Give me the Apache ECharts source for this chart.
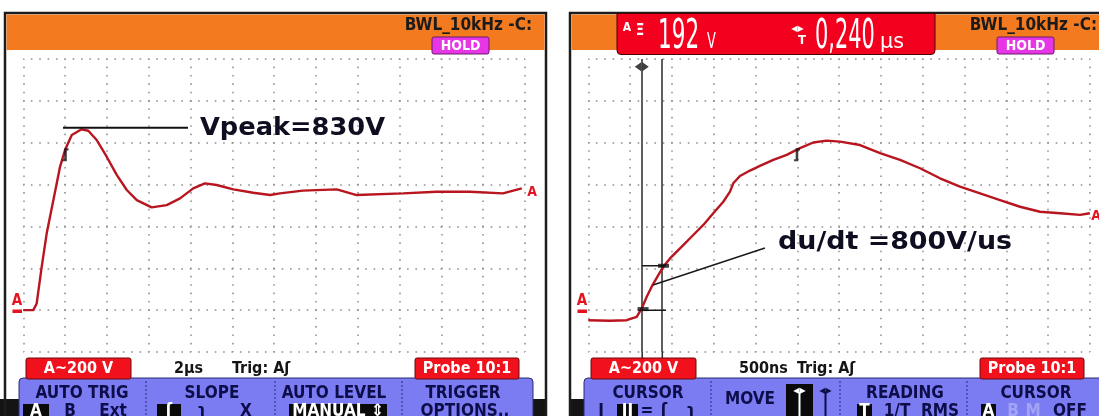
<!DOCTYPE html>
<html><head><meta charset="utf-8">
<script src="https://cdn.jsdelivr.net/npm/echarts@6/dist/echarts.min.js"></script>
<style>html,body{margin:0;padding:0;background:#fff;}#c{width:1099px;height:416px;}</style>
</head><body><div id="c"></div>
<script>
// ---- data (left scope: 2 µs/div, 200 V/div) ----
const leftTime = [0, 0.48, 0.64, 0.88, 1.12, 1.44, 1.76, 2.0, 2.32, 2.79, 3.11, 3.51, 3.99, 4.47, 4.95, 5.43, 6.14, 6.86, 7.5, 8.13, 8.69, 9.25, 10.05, 11.0, 11.81, 12.28, 13.38, 15.0, 15.95, 18.17, 19.78, 21.37, 22.95, 23.85];
const leftVolt = [0, 0, 32, 207, 367, 526, 686, 766, 837, 864, 857, 813, 733, 646, 574, 526, 491, 502, 534, 582, 606, 598, 577, 561, 550, 558, 571, 577, 550, 558, 566, 566, 558, 582];
// ---- data (right scope: 500 ns/div, 200 V/div) ----
const rightTime = [0, 260, 459, 579, 639, 699, 758, 837, 897, 977, 1097, 1256, 1376, 1495, 1615, 1695, 1734, 1814, 1934, 2053, 2213, 2373, 2532, 2691, 2852, 3011, 3250, 3490, 3729, 3968, 4207, 4446, 4686, 4925, 5164, 5403, 5643, 5882, 6000];
const rightVolt = [-48, -51, -48, -32, 8, 64, 112, 167, 207, 247, 295, 359, 407, 463, 518, 566, 606, 641, 667, 689, 718, 742, 774, 801, 810, 805, 789, 750, 718, 678, 630, 590, 558, 526, 494, 470, 463, 455, 463];
// annotations
const vpeakLineT = [1.90, 7.88];
const vpeakLineV = [871, 871];
const dudtLineT = [774, 2113];
const dudtLineV = [120, 297];
const cursorTimes = [640, 880];
const cursorLevels = [0, 212];
const cursorSpanT = [640, 930];
const cursorDotsT = [655, 900];
const cursorDotsV = [5, 212];
const trigLevel = 742;
const trigLeftT = 2.02;
const trigRightT = 2496;
// axes
const leftTimeAxis = [0, 24, 2];
const rightTimeAxis = [0, 6000, 500];
const voltAxis = [-200, 1200, 200];
// texts
const headerLabel = 'BWL_10kHz -C:';
const holdLabel = 'HOLD';
const rangeLabel = 'A~200 V';
const probeLabel = 'Probe 10:1';
const timebaseLeft = '2µs';
const timebaseRight = '500ns';
const trigLabel = 'Trig: Aʃ';
const vpeakLabel = 'Vpeak=830V';
const dudtLabel = 'du/dt =800V/us';
const readoutV = '192', readoutVUnit = 'V', readoutT = '0,240', readoutTUnit = 'µs';

const FC = '"DejaVu Sans Condensed","DejaVu Sans",sans-serif';
const FB = '"DejaVu Sans",Verdana,sans-serif';
const NAVY = '#0d0d4a';

function zip(a, b) { return a.map((v, i) => [v, b[i]]); }
function txt(x, y, s, font, fill, align, extra) {
  return Object.assign({ type: 'text', x: x, y: y, z: 30, silent: true,
    style: { text: s, font: font, fill: fill, align: align || 'left', verticalAlign: 'middle',
      textAlign: align || 'left', textVerticalAlign: 'middle' } }, extra || {});
}
function rect(x, y, w, h, fill, stroke, lw, r, z) {
  return { type: 'rect', z: z || 20, silent: true, shape: { x: x, y: y, width: w, height: h, r: r || 0 },
    style: { fill: fill, stroke: stroke || null, lineWidth: lw || 0 } };
}
function line(x1, y1, x2, y2, stroke, lw, dash, z) {
  return { type: 'line', z: z || 21, silent: true, shape: { x1: x1, y1: y1, x2: x2, y2: y2 },
    style: { stroke: stroke, lineWidth: lw, lineDash: dash || null } };
}

const g = [];
function panel(dx, right) {
  const fw = right ? 600 : 541;
  g.push(rect(right ? 570 : 0, 399, right ? 529 : 546, 20, '#141414', null, 0, 0, 15));
  g.push(rect(5 + dx, 13, fw, 420, 'none', '#1c1c1c', 2.5, 0, 16));
  g.push(rect(6.5 + dx, 14.5, fw - 3, 35.5, '#f47a1f', null, 0, 0, 17));
  g.push(txt(532 + dx, 25.5, headerLabel, 'bold 17px ' + FC, '#1b1b1b', 'right', { scaleX: 1 }));
  g.push(rect(432 + dx, 37, 57, 17, '#e636e6', '#6a1a6a', 1, 2, 22));
  g.push(txt(460.5 + dx, 46, holdLabel, 'bold 14px ' + FC, '#ffffff', 'center'));
  g.push(rect(19 + dx, 378, right ? 530 : 514, 45, '#7b7bf2', '#2c2c6c', 1, [4, 4, 0, 0], 18));
  [146, 275, 402].forEach(x => g.push(line(x + dx, 381, x + dx, 416, '#2b2b7a', 1, [2, 2], 19)));
  g.push(rect(26 + dx, 358, 105, 21, '#f0111d', '#6a0a0a', 1, 2, 22));
  g.push(txt(78.5 + dx, 369, rangeLabel, 'bold 16px ' + FC, '#ffffff', 'center'));
  g.push(rect(415 + dx, 358, 104, 21, '#f0111d', '#6a0a0a', 1, 2, 22));
  g.push(txt(467 + dx, 369, probeLabel, 'bold 16px ' + FC, '#ffffff', 'center'));
  g.push(txt(174 + dx, 369, right ? timebaseRight : timebaseLeft, 'bold 16px ' + FC, '#151515', 'left'));
  g.push(txt(232 + dx, 369, trigLabel, 'bold 16px ' + FC, '#151515', 'left'));
  // ground marker "A"
  g.push(txt(17 + dx, 301, 'A', 'bold 15px ' + FC, '#e3141f', 'center'));
  g.push(rect(12.5 + dx, 309.5, 9.5, 3.5, '#e3141f', null, 0, 0, 30));
  // cursor lines run down to the range box (right panel only)
}
panel(0, false);
panel(565, true);
g.push(txt(532, 192, 'A', 'bold 14px ' + FC, '#e3141f', 'center'));
g.push(txt(1096, 216, 'A', 'bold 14px ' + FC, '#e3141f', 'center'));

// left menu
const menuFont = 'bold 17px ' + FC;
g.push(txt(82, 394, 'AUTO TRIG', menuFont, NAVY, 'center'));
g.push(rect(23, 404, 26, 16, '#0a0a0a', null, 0, 0, 25));
g.push(txt(36, 412, 'A', menuFont, '#ffffff', 'center'));
g.push(txt(70, 412, 'B', menuFont, NAVY, 'center'));
g.push(txt(113, 412, 'Ext', menuFont, NAVY, 'center'));
g.push(txt(212, 394, 'SLOPE', menuFont, NAVY, 'center'));
g.push(rect(157, 404, 24, 16, '#0a0a0a', null, 0, 0, 25));
g.push(txt(169, 412, 'ʃ', menuFont, '#ffffff', 'center'));
g.push(txt(202, 412, 'ʅ', menuFont, NAVY, 'center'));
g.push(txt(246, 412, 'X', menuFont, NAVY, 'center'));
g.push(txt(334, 394, 'AUTO LEVEL', menuFont, NAVY, 'center'));
g.push(rect(289, 404, 98, 16, '#0a0a0a', null, 0, 0, 25));
g.push(txt(338, 412, 'MANUAL ⇕', menuFont, '#ffffff', 'center'));
g.push(txt(463, 394, 'TRIGGER', menuFont, NAVY, 'center'));
g.push(txt(465, 412, 'OPTIONS..', menuFont, NAVY, 'center'));

// right menu
g.push(txt(648, 394, 'CURSOR', menuFont, NAVY, 'center'));
g.push(txt(601, 412, 'I', menuFont, NAVY, 'center'));
g.push(rect(617, 404, 21, 16, '#0a0a0a', null, 0, 0, 25));
g.push(txt(627.5, 412, 'II', menuFont, '#ffffff', 'center'));
g.push(txt(647, 412, '=', menuFont, NAVY, 'center'));
g.push(txt(664, 412, 'ʃ', menuFont, NAVY, 'center'));
g.push(txt(691, 412, 'ʅ', menuFont, NAVY, 'center'));
g.push(txt(750, 400, 'MOVE', menuFont, NAVY, 'center'));
g.push(rect(786, 384, 27, 36, '#0a0a0a', null, 0, 0, 25));
g.push(line(799.5, 392, 799.5, 416, '#ffffff', 2, null, 31));
g.push(txt(799.5, 391, '◀▶', 'bold 8px ' + FB, '#ffffff', 'center'));
g.push(line(825.5, 392, 825.5, 416, NAVY, 2, null, 31));
g.push(txt(825.5, 391, '◀▶', 'bold 8px ' + FB, NAVY, 'center'));
g.push(txt(905, 394, 'READING', menuFont, NAVY, 'center'));
g.push(rect(857, 404, 15, 16, '#0a0a0a', null, 0, 0, 25));
g.push(txt(864.5, 412, 'T', menuFont, '#ffffff', 'center'));
g.push(txt(897, 412, '1/T', menuFont, NAVY, 'center'));
g.push(txt(940, 412, 'RMS', menuFont, NAVY, 'center'));
g.push(txt(1036, 394, 'CURSOR', menuFont, NAVY, 'center'));
g.push(rect(981, 404, 15, 16, '#0a0a0a', null, 0, 0, 25));
g.push(txt(988.5, 412, 'A', menuFont, '#ffffff', 'center'));
g.push(txt(1013, 412, 'B', menuFont, '#a4a4f6', 'center'));
g.push(txt(1033, 412, 'M', menuFont, '#a4a4f6', 'center'));
g.push(txt(1070, 412, 'OFF', menuFont, NAVY, 'center'));

// right readout box
g.push(rect(617, 13.5, 318, 41, '#f2001e', '#4a0000', 1, [0, 0, 4, 4], 22));
g.push(txt(627, 28, 'A', 'bold 12px ' + FC, '#ffffff', 'center'));
g.push(txt(640, 31, 'Ξ', 'bold 15px ' + FC, '#ffffff', 'center'));
g.push(txt(658, 38, readoutV, '40px ' + FC, '#ffffff', 'left', { scaleX: 0.6 }));
g.push(txt(707, 42, readoutVUnit, '22px ' + FC, '#ffffff', 'left', { scaleX: 0.65 }));
g.push(txt(797.5, 29, '◀▶', 'bold 8px ' + FB, '#ffffff', 'center'));
g.push(txt(802, 41, 'T', 'bold 13px ' + FC, '#ffffff', 'center'));
g.push(txt(815, 38, readoutT, '40px ' + FC, '#ffffff', 'left', { scaleX: 0.58 }));
g.push(txt(880, 43, readoutTUnit, '21px ' + FC, '#ffffff', 'left', { scaleX: 1.1 }));

// annotation texts
g.push(txt(200, 129, vpeakLabel, 'bold 24px ' + FB, '#0e0e20', 'left', { scaleX: 1.07 }));
g.push(txt(778, 243, dudtLabel, 'bold 24px ' + FB, '#0e0e20', 'left', { scaleX: 1.12 }));
// cursor lines continuation to the range box
g.push(line(642.2, 352, 642.2, 358, '#2a2a2a', 1.5, null, 21));
g.push(line(662.3, 352, 662.3, 358, '#2a2a2a', 1.5, null, 21));

function axisX(idx, a) {
  return { type: 'value', gridIndex: idx, min: a[0], max: a[1], interval: a[2],
    axisLine: { show: false }, axisTick: { show: false }, axisLabel: { show: false },
    splitLine: { show: true, lineStyle: { color: '#8e8e8e', width: 1.5, type: [1.6, 6.77], dashOffset: 0.8 } } };
}
function axisY(idx, a) {
  return { type: 'value', gridIndex: idx, min: a[0], max: a[1], interval: a[2],
    axisLine: { show: false }, axisTick: { show: false }, axisLabel: { show: false },
    splitLine: { show: true, lineStyle: { color: '#8e8e8e', width: 1.5, type: [1.6, 6.76], dashOffset: 0.8 } } };
}
const trace = { color: '#b8151f', width: 2.4 };
const trigPath = 'path://M3,0 L7,0 L7,2 L5,2 L5,12 L0,12 L0,10 L2,10 L2,0 Z';

const option = {
  animation: false,
  backgroundColor: '#ffffff',
  grid: [
    { left: 23.3, top: 59, width: 501.6, height: 293 },
    { left: 588.3, top: 59, width: 501.6, height: 293 }
  ],
  xAxis: [axisX(0, leftTimeAxis), axisX(1, rightTimeAxis)],
  yAxis: [axisY(0, voltAxis), axisY(1, voltAxis)],
  graphic: { elements: g },
  series: [
    { type: 'line', xAxisIndex: 0, yAxisIndex: 0, data: zip(leftTime, leftVolt), showSymbol: false, silent: true, z: 5,
      lineStyle: trace },
    { type: 'line', xAxisIndex: 1, yAxisIndex: 1, data: zip(rightTime, rightVolt), showSymbol: false, silent: true, z: 5,
      lineStyle: trace,
      markLine: { silent: true, symbol: 'none', label: { show: false }, z: 4,
        lineStyle: { color: '#2a2a2a', width: 1.5, type: 'solid' },
        data: cursorTimes.map(t => ({ xAxis: t })) } },
    { type: 'line', xAxisIndex: 0, yAxisIndex: 0, data: zip(vpeakLineT, vpeakLineV), showSymbol: false, silent: true, z: 6,
      lineStyle: { color: '#111111', width: 2 } },
    { type: 'line', xAxisIndex: 1, yAxisIndex: 1, data: zip(dudtLineT, dudtLineV), showSymbol: false, silent: true, z: 6,
      lineStyle: { color: '#1a1a1a', width: 1.5 } },
    { type: 'line', xAxisIndex: 1, yAxisIndex: 1, data: zip(cursorSpanT, [cursorLevels[0], cursorLevels[0]]), showSymbol: false, silent: true, z: 6,
      lineStyle: { color: '#1a1a1a', width: 1.5 } },
    { type: 'line', xAxisIndex: 1, yAxisIndex: 1, data: zip(cursorSpanT, [cursorLevels[1], cursorLevels[1]]), showSymbol: false, silent: true, z: 6,
      lineStyle: { color: '#1a1a1a', width: 1.5 } },
    { type: 'scatter', xAxisIndex: 1, yAxisIndex: 1, data: zip(cursorDotsT, cursorDotsV), symbol: 'rect', symbolSize: [11, 4], silent: true, z: 7,
      itemStyle: { color: '#111111' } },
    { type: 'scatter', xAxisIndex: 1, yAxisIndex: 1, data: [[cursorTimes[0], 1163]], silent: true, z: 7,
      symbol: 'path://M0,5 L5,0 L5,10 Z M11,5 L6,0 L6,10 Z', symbolSize: [14, 9], itemStyle: { color: '#111111' } },
    { type: 'scatter', xAxisIndex: 0, yAxisIndex: 0, data: [[trigLeftT, trigLevel]], symbol: trigPath, symbolSize: [6, 13], silent: true, z: 7,
      itemStyle: { color: '#111111' } },
    { type: 'scatter', xAxisIndex: 1, yAxisIndex: 1, data: [[trigRightT, trigLevel]], symbol: trigPath, symbolSize: [6, 13], silent: true, z: 7,
      itemStyle: { color: '#111111' } }
  ]
};
const chart = echarts.init(document.getElementById('c'), null, { renderer: 'canvas' });
chart.setOption(option);
</script>
</body></html>
